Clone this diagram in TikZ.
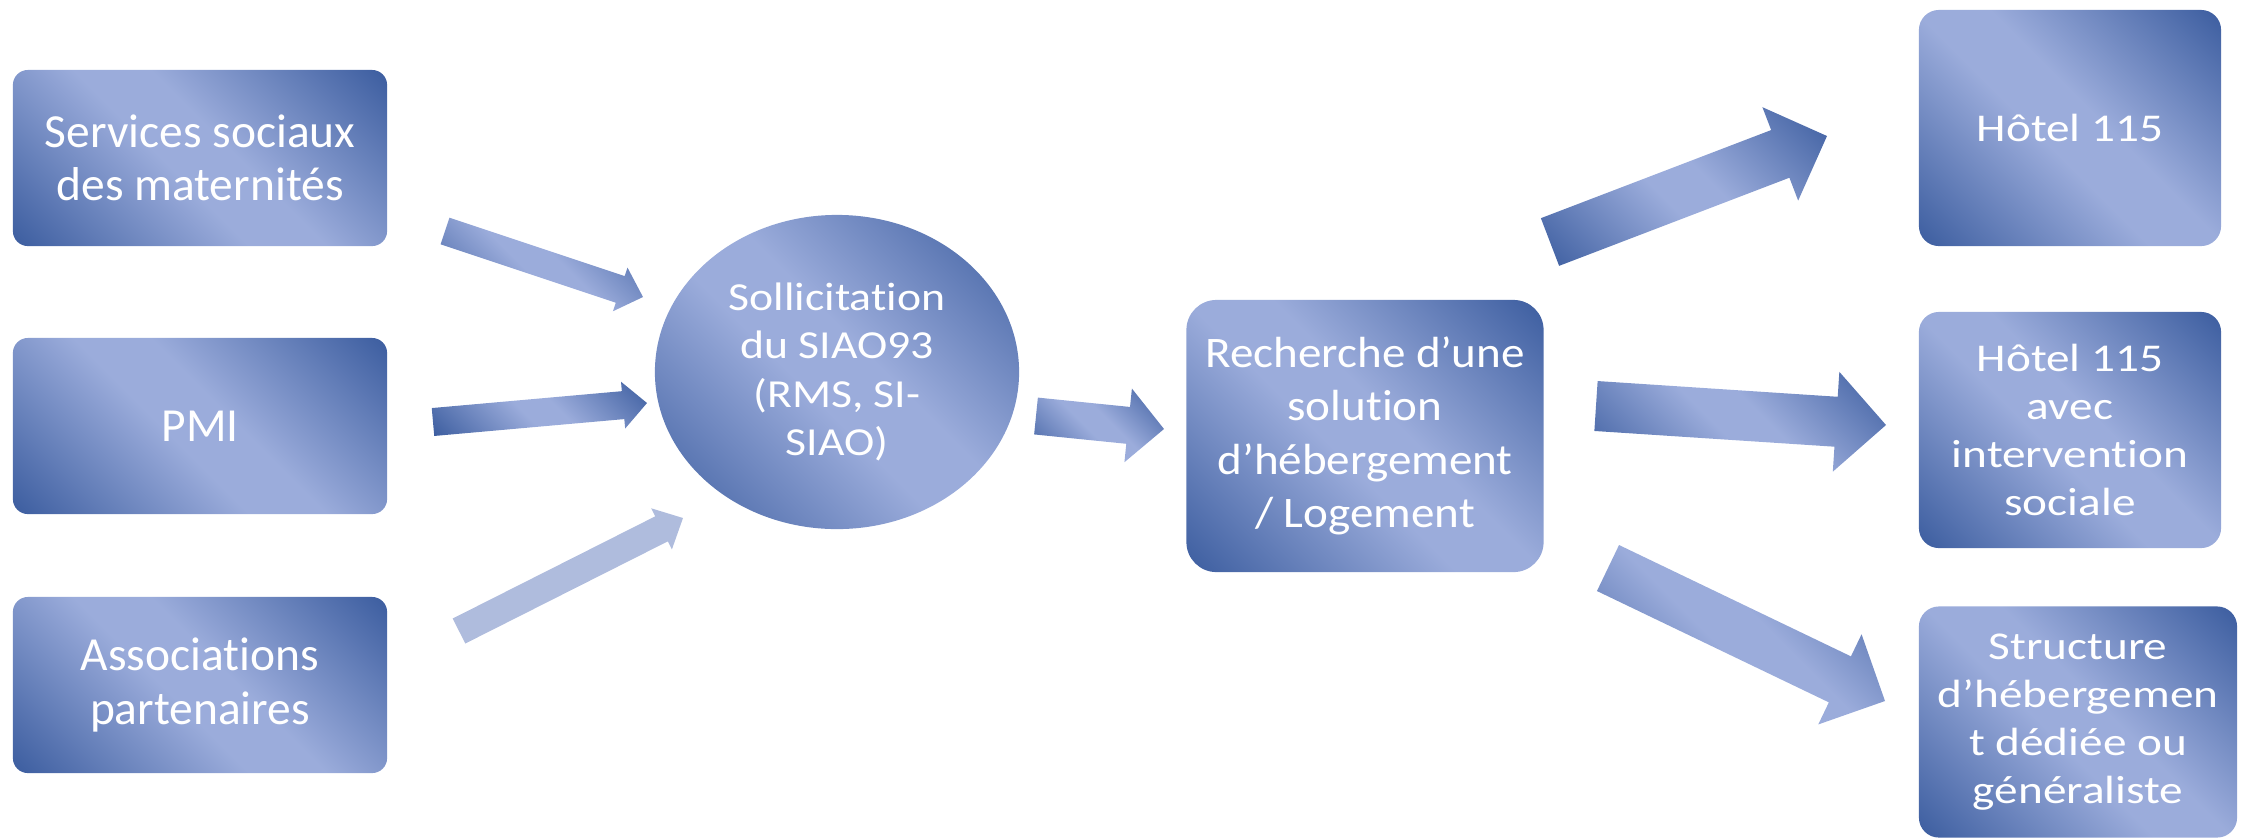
\documentclass[tikz,border=0pt]{standalone}
\usepackage{fontspec}
\setmainfont[Ligatures=NoCommon]{Carlito}
\newfontfamily\leftfont[Ligatures=NoCommon]{Carlito}
\newfontfamily\circfont[Ligatures=NoCommon, FakeStretch=1.15]{Carlito}
\newfontfamily\midfont[Ligatures=NoCommon, FakeStretch=1.08]{Carlito}
\newfontfamily\rightfont[Ligatures=NoCommon, FakeStretch=1.2]{Carlito}
\usetikzlibrary{shapes.geometric,calc}

\definecolor{blueDark}{RGB}{61,94,160}
\definecolor{blueLight}{RGB}{155,172,219}
\definecolor{bluePale}{RGB}{175,188,221}

\pgfdeclareverticalshading{bandgrad}{100bp}{color(0bp)=(blueDark); color(15bp)=(blueDark);
  color(45bp)=(blueLight); color(55bp)=(blueLight); color(85bp)=(blueDark); color(100bp)=(blueDark)}

% block arrow: [style]{tail}{tip}{half shaft}{half head}{head length}
\newcommand\fatarrow[6][]{%
  \path ($(#3)!#6!(#2)$) coordinate (hb);
  \path[#1] ($(#2)!#4!90:(#3)$) -- ($(hb)!#4!90:(#3)$) -- ($(hb)!#5!90:(#3)$)
    -- (#3) -- ($(hb)!#5!-90:(#3)$) -- ($(hb)!#4!-90:(#3)$)
    -- ($(#2)!#4!-90:(#3)$) -- cycle;
}

\begin{document}
\begin{tikzpicture}[x=0.01cm, y=-0.01cm,
  grad/.style={shade, shading=bandgrad, shading angle=-45},
  box/.style={rectangle, rounded corners=0.15cm, grad, text=white, align=center, inner sep=0pt},
  srcbox/.style={box, minimum width=3.74cm, minimum height=1.76cm, font=\leftfont\fontsize{13.5}{15.1}\selectfont},
  dstbox/.style={box, rounded corners=0.2cm, font=\rightfont\fontsize{11.2}{13.7}\selectfont},
  pale/.style={fill=bluePale}]
  \useasboundingbox (0,0) rectangle (2244,838);

  \node[srcbox] (svc) at (200,158) {Services sociaux\\des maternités};
  \node[srcbox] (pmi) at (200,426) {PMI};
  \node[srcbox] (asso) at (200,685) {Associations\\partenaires};

  \node[ellipse, grad, text=white, align=center, inner sep=0pt, minimum width=3.64cm, minimum height=3.14cm,
    font=\circfont\fontsize{11.3}{13.8}\selectfont] (siao) at (837,372) {Sollicitation\\du SIAO93\\(RMS, SI-\\SIAO)};

  \node[box, rounded corners=0.3cm, minimum width=3.57cm, minimum height=2.72cm,
    font=\midfont\fontsize{12.4}{15.2}\selectfont] (rech) at (1365,436) {Recherche d’une\\solution\\d’hébergement\\/ Logement};

  \node[dstbox, minimum width=3.02cm, minimum height=2.36cm] (hotel) at (2070,128) {Hôtel 115};
  \node[dstbox, minimum width=3.02cm, minimum height=2.36cm] (hotelsoc) at (2070,430) {Hôtel 115\\avec\\intervention\\sociale};
  \node[dstbox, minimum width=3.18cm, minimum height=2.31cm] (struct) at (2078,722) {Structure\\d’hébergemen\\t dédiée ou\\généraliste};

  % arrow ends
  \coordinate (svc-t) at (445,231);   \coordinate (svc-h) at (643,297);
  \coordinate (pmi-t) at (433,422);   \coordinate (pmi-h) at (647,403);
  \coordinate (asso-t) at (459,631);  \coordinate (asso-h) at (683,518);
  \coordinate (siao-t) at (1036,416); \coordinate (siao-h) at (1164,429);
  \coordinate (r1-t) at (1550,242);   \coordinate (r1-h) at (1827,136);
  \coordinate (r2-t) at (1596,406);   \coordinate (r2-h) at (1886,425);
  \coordinate (r3-t) at (1608,568);   \coordinate (r3-h) at (1885,701);

  \fatarrow[grad]{svc-t}{svc-h}{0.14cm}{0.23cm}{0.24cm}
  \fatarrow[grad]{pmi-t}{pmi-h}{0.14cm}{0.235cm}{0.24cm}
  \fatarrow[pale]{asso-t}{asso-h}{0.14cm}{0.23cm}{0.24cm}
  \fatarrow[grad]{siao-t}{siao-h}{0.185cm}{0.37cm}{0.36cm}
  \fatarrow[grad]{r1-t}{r1-h}{0.255cm}{0.5cm}{0.5cm}
  \fatarrow[grad]{r2-t}{r2-h}{0.25cm}{0.5cm}{0.5cm}
  \fatarrow[grad]{r3-t}{r3-h}{0.255cm}{0.5cm}{0.5cm}
\end{tikzpicture}
\end{document}
